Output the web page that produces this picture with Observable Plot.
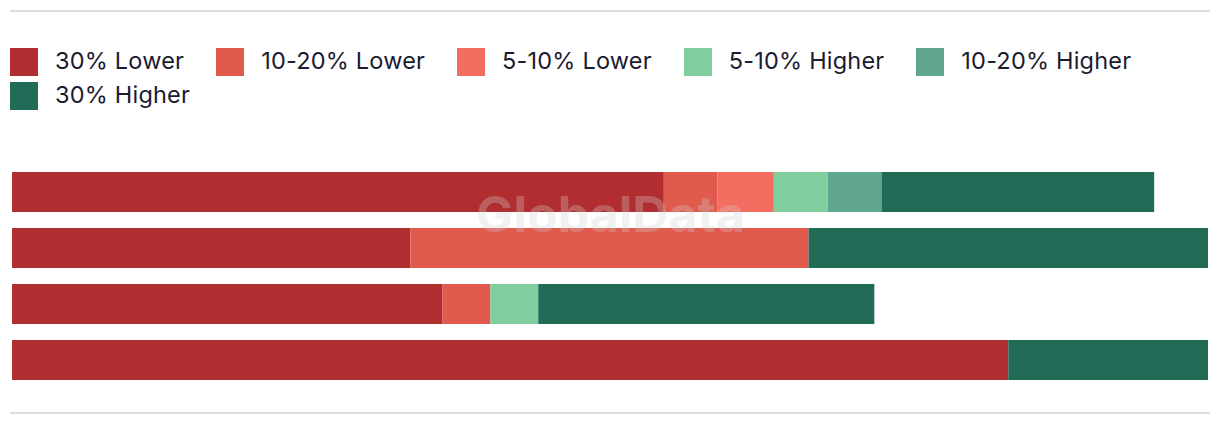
<!DOCTYPE html>
<html>
<head>
<meta charset="utf-8">
<script src="https://cdn.jsdelivr.net/npm/d3@7"></script>
<script src="https://cdn.jsdelivr.net/npm/@observablehq/plot@0.6"></script>
<style>
  html, body { margin: 0; padding: 0; background: #fff; }
  body { width: 1220px; height: 426px; overflow: hidden; font-family: Inter, "Open Sans", sans-serif; }
  #wrap { position: absolute; left: 10px; top: 10px; width: 1200px; border-top: 2px solid #dcdcdc; border-bottom: 2px solid #dcdcdc; }
  #legend { display: flex; flex-wrap: wrap; margin-top: 36px; row-gap: 6px; column-gap: 32px; width: 1200px; }
  .item { display: flex; align-items: center; height: 28px; }
  .sw { width: 28px; height: 28px; margin-right: 17px; flex: none; }
  .lab { font-size: 23.5px; color: #1b1b2f; white-space: nowrap; letter-spacing: 0.2px; position: relative; top: -2px; }
  svg { display: block; }
</style>
</head>
<body>
<div id="wrap">
  <div id="legend"></div>
  <div id="chart"></div>
</div>
<script>
const rows = ["Row 1", "Row 2", "Row 3", "Row 4"];
const categories = ["30% Lower", "10-20% Lower", "5-10% Lower", "5-10% Higher", "10-20% Higher", "30% Higher"];
const colors = ["#b12d2f", "#e05a4e", "#f46d61", "#7fce9d", "#60a68e", "#216b57"];
// percentage share per row, one array per category
const lower30  = [54.5, 33.3, 36.0, 83.3];
const lower10  = [4.5, 33.3, 4.0, 0];
const lower5   = [4.7, 0, 0, 0];
const higher5  = [4.5, 0, 4.0, 0];
const higher10 = [4.5, 0, 0, 0];
const higher30 = [22.8, 33.4, 28.1, 16.7];
const series = [lower30, lower10, lower5, higher5, higher10, higher30];

const data = [];
rows.forEach((r, i) => {
  series.forEach((s, j) => {
    if (s[i] > 0) data.push({row: r, category: categories[j], value: s[i]});
  });
});

// legend
const legend = document.getElementById("legend");
categories.forEach((c, j) => {
  const it = document.createElement("div");
  it.className = "item";
  it.innerHTML = `<div class="sw" style="background:${colors[j]}"></div><span class="lab">${c}</span>`;
  legend.appendChild(it);
});

const chart = Plot.plot({
  width: 1200,
  height: 302,
  marginLeft: 2,
  marginRight: 2,
  marginTop: 62,
  marginBottom: 32,
  x: {domain: [0, 100], axis: null},
  y: {domain: rows, axis: null, paddingInner: 16/56, paddingOuter: 0},
  color: {domain: categories, range: colors},
  marks: [
    Plot.barX(data, Plot.stackX({x: "value", y: "row", fill: "category", order: categories})),
    Plot.text(["GlobalData"], {frameAnchor: "middle", dy: -61, text: d => d, fontSize: 50, fontWeight: "bold", fill: "#d0d0d0", fillOpacity: 0.3, fontFamily: "Inter, sans-serif"})
  ]
});
document.getElementById("chart").appendChild(chart);
</script>
</body>
</html>
